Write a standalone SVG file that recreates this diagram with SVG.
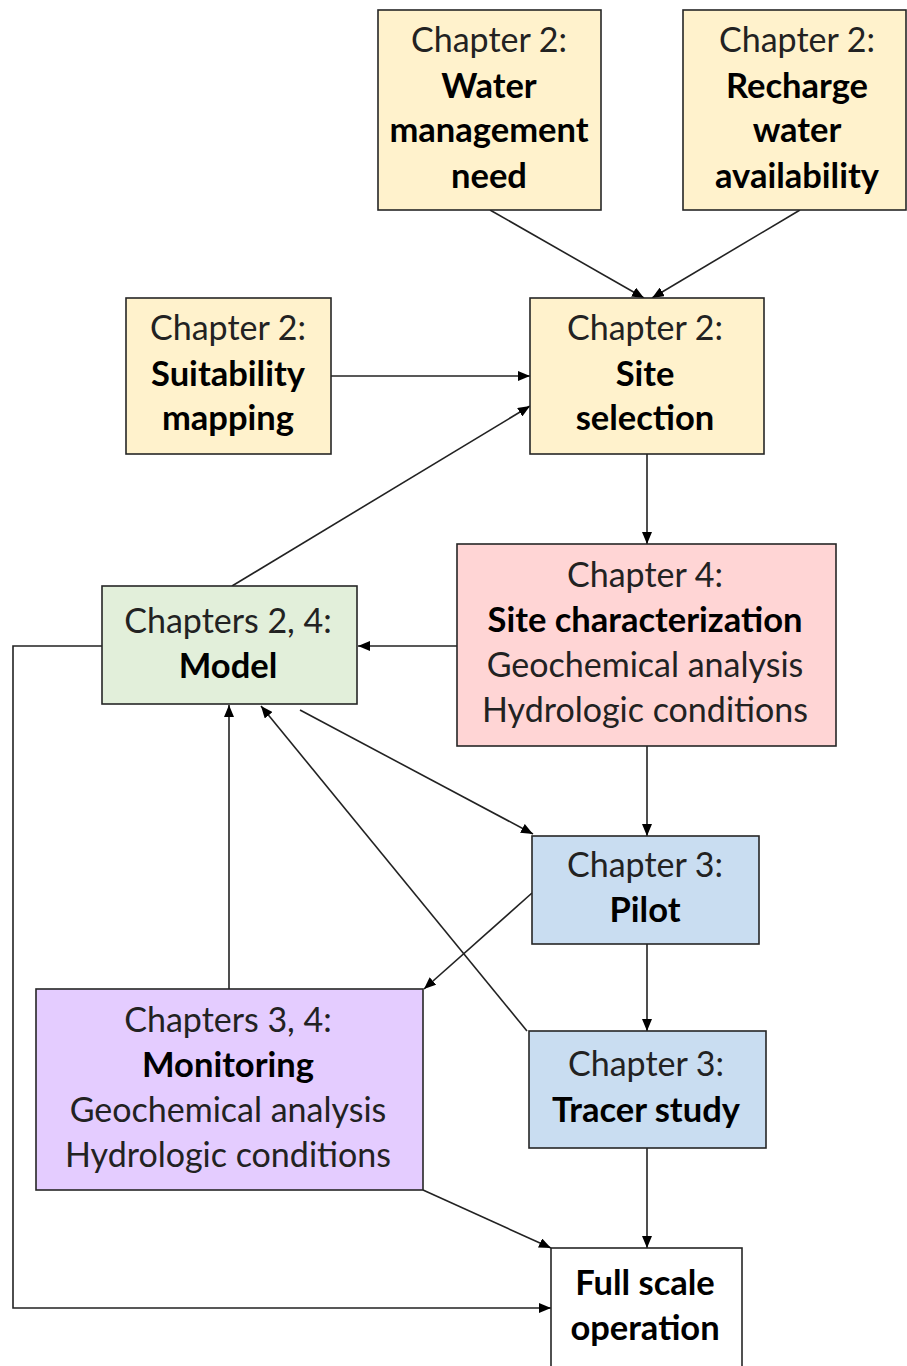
<svg xmlns="http://www.w3.org/2000/svg" width="907" height="1366" viewBox="0 0 907 1366">
<defs>
<marker id="ah" viewBox="0 0 12 10" refX="12" refY="5" markerWidth="12" markerHeight="10" markerUnits="userSpaceOnUse" orient="auto">
<path d="M0,0 L12,5 L0,10 z" fill="#000"/>
</marker>
<style>
.box{stroke:#262626;stroke-width:1.6}
.y{fill:#FFF2CC}.p{fill:#FFD5D5}.g{fill:#E2EFDA}.b{fill:#C9DDF1}.v{fill:#E4CCFF}.w{fill:#FFFFFF}
text{font-family:Lato,"Open Sans","Liberation Sans",sans-serif;font-size:34px;text-anchor:middle;fill:#222}
.bd{font-weight:bold;fill:#000;font-size:34.5px}
.c line,.c path,.c polyline{stroke:#222;stroke-width:1.6;fill:none;marker-end:url(#ah)}
</style>
</defs>
<g class="c" id="connectors">
<line x1="490" y1="210" x2="644" y2="298"/>
<line x1="800" y1="210" x2="652" y2="298"/>
<line x1="331" y1="376" x2="530" y2="376"/>
<line x1="232" y1="586" x2="530" y2="406"/>
<line x1="647" y1="454" x2="647" y2="544"/>
<line x1="457" y1="646" x2="358" y2="646"/>
<line x1="647" y1="746" x2="647" y2="836"/>
<line x1="300" y1="710" x2="533" y2="834"/>
<line x1="532" y1="893" x2="424" y2="989"/>
<line x1="229" y1="989" x2="229" y2="705"/>
<line x1="527" y1="1031" x2="261" y2="706"/>
<line x1="647" y1="944" x2="647" y2="1031"/>
<line x1="647" y1="1148" x2="647" y2="1248"/>
<line x1="423" y1="1190" x2="551" y2="1248"/>
<polyline points="102,646 13,646 13,1308 551,1308"/>
</g>
<g id="water">
<rect class="box y" x="378" y="10" width="223" height="200"/>
<text x="489" y="52">Chapter 2:</text>
<text class="bd" x="489" y="98">Water</text>
<text class="bd" x="489" y="142">management</text>
<text class="bd" x="489" y="188">need</text>
</g>
<g id="recharge">
<rect class="box y" x="683" y="10" width="223" height="200"/>
<text x="797" y="52">Chapter 2:</text>
<text class="bd" x="797" y="98">Recharge</text>
<text class="bd" x="797" y="142">water</text>
<text class="bd" x="797" y="188">availability</text>
</g>
<g id="suitability">
<rect class="box y" x="126" y="298" width="205" height="156"/>
<text x="228" y="340">Chapter 2:</text>
<text class="bd" x="228" y="386">Suitability</text>
<text class="bd" x="228" y="430">mapping</text>
</g>
<g id="siteselection">
<rect class="box y" x="530" y="298" width="234" height="156"/>
<text x="645" y="340">Chapter 2:</text>
<text class="bd" x="645" y="386">Site</text>
<text class="bd" x="645" y="430">selection</text>
</g>
<g id="sitechar">
<rect class="box p" x="457" y="544" width="379" height="202"/>
<text x="645" y="587">Chapter 4:</text>
<text class="bd" x="645" y="632">Site characterization</text>
<text x="645" y="677">Geochemical analysis</text>
<text x="645" y="722">Hydrologic conditions</text>
</g>
<g id="model">
<rect class="box g" x="102" y="586" width="255" height="118"/>
<text x="228" y="633">Chapters 2, 4:</text>
<text class="bd" x="228" y="678">Model</text>
</g>
<g id="pilot">
<rect class="box b" x="532" y="836" width="227" height="108"/>
<text x="645" y="877">Chapter 3:</text>
<text class="bd" x="645" y="922">Pilot</text>
</g>
<g id="monitoring">
<rect class="box v" x="36" y="989" width="387" height="201"/>
<text x="228" y="1032">Chapters 3, 4:</text>
<text class="bd" x="228" y="1077">Monitoring</text>
<text x="228" y="1122">Geochemical analysis</text>
<text x="228" y="1167">Hydrologic conditions</text>
</g>
<g id="tracer">
<rect class="box b" x="529" y="1031" width="237" height="117"/>
<text x="646" y="1076">Chapter 3:</text>
<text class="bd" x="646" y="1122">Tracer study</text>
</g>
<g id="fullscale">
<rect class="box w" x="551" y="1248" width="191" height="125"/>
<text class="bd" x="645" y="1295">Full scale</text>
<text class="bd" x="645" y="1340">operation</text>
</g>
</svg>
